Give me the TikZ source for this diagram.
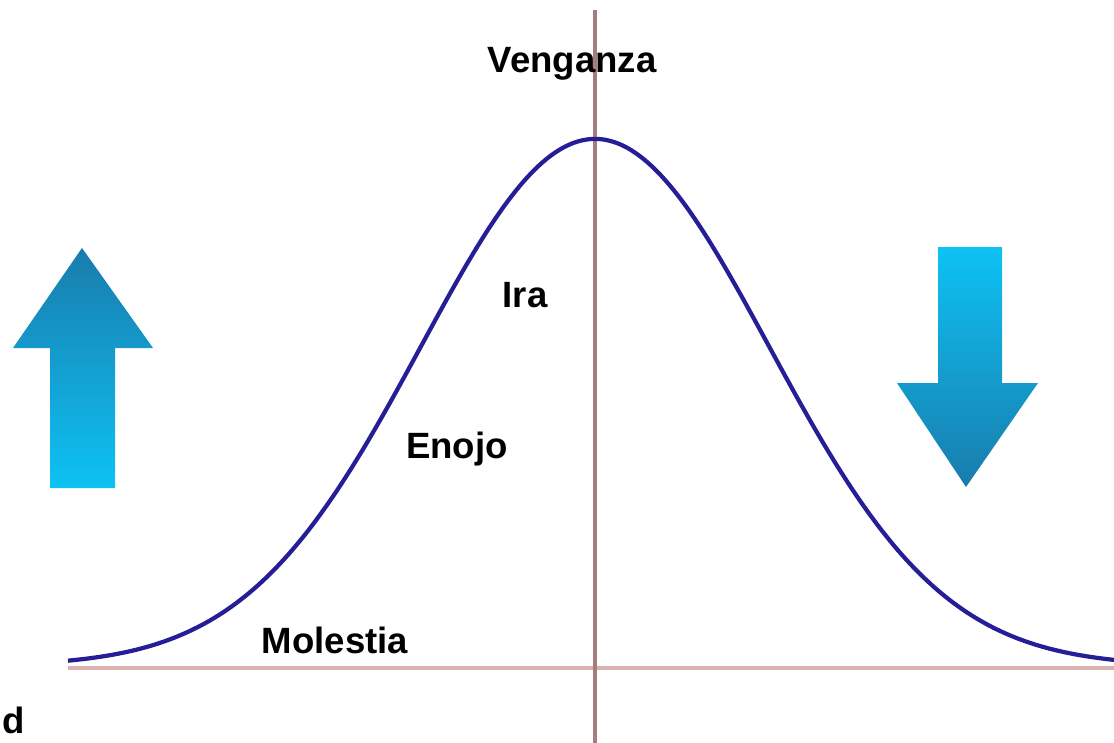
\documentclass[tikz,border=0pt]{standalone}
\usepackage{fontspec}
\setmainfont{Liberation Sans}
\definecolor{curveblue}{RGB}{38,30,150}
\definecolor{axisbrown}{RGB}{165,125,128}
\definecolor{axispink}{RGB}{218,178,178}
\definecolor{arrowdark}{RGB}{24,124,172}
\definecolor{arrowlight}{RGB}{14,194,244}
\tikzset{
  label/.style={font=\fontsize{26}{30}\selectfont\bfseries, inner sep=0pt, anchor=base},
  curve/.style={curveblue, line width=3pt},
}
\begin{document}
\begin{tikzpicture}[x=0.025cm,y=-0.025cm]
  \useasboundingbox (0,0) rectangle (1114,743);
  \draw[axispink, line width=2.6pt] (68,668) -- (1114,668);
  \draw[axisbrown, line width=2.2pt] (595,10) -- (595,743);
  \draw[curve] plot[domain=68:1114, samples=200, smooth]
    (\x, {666 - 527*exp(-0.5*((\x-595)/174)^2)});
  % block arrows
  \shade[top color=arrowdark, bottom color=arrowlight]
    (82,248) -- (153,348) -- (115,348) -- (115,488) -- (50,488) -- (50,348) -- (13,348) -- cycle;
  \shade[top color=arrowlight, bottom color=arrowdark]
    (938,247) -- (1002,247) -- (1002,383) -- (1038,383) -- (966,487) -- (897,383) -- (938,383) -- cycle;
  \node[label] (venganza) at (572,72) {Venganza};
  \node[label] (ira) at (525,307) {Ira};
  \node[label] (enojo) at (457,458) {Enojo};
  \node[label] (molestia) at (335,653) {Molestia};
  \node[label, anchor=base west] (cut) at (2,733) {d};
\end{tikzpicture}
\end{document}
